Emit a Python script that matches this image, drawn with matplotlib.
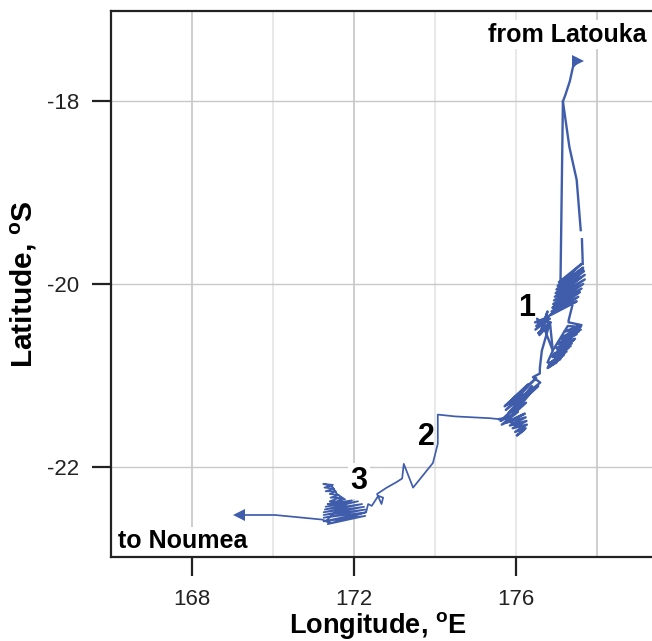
import numpy as np
import matplotlib
matplotlib.use('Agg')
import matplotlib.pyplot as plt

plt.rcParams['font.family'] = ['Liberation Sans', 'DejaVu Sans']
plt.rcParams['mathtext.fontset'] = 'custom'
plt.rcParams['mathtext.bf'] = 'Liberation Sans:bold'
plt.rcParams['mathtext.rm'] = 'Liberation Sans'
plt.rcParams['axes.unicode_minus'] = False

# ship track (nan = gap in the line)
north_lon = [177.53, 177.41, 177.33, 177.22, 177.16, 177.32, 177.50, 177.60, np.nan, 177.63, 177.65]
north_lat = [-17.56, -17.62, -17.78, -17.93, -18.00, -18.50, -18.86, -19.41, np.nan, -19.51, -19.78]

down_lon = [177.16, 177.13, 177.10]
down_lat = [-18.00, -19.00, -19.98]

cluster1_lon = [177.06, 177.62, 177.03, 177.66, 177.00, 177.68, 176.98, 177.70, 176.96, 177.70, 176.94,
                177.66, 176.92, 177.62, 176.90, 177.58, 176.88, 177.54, 176.86, 177.50, 176.90, 177.30,
                177.02, 177.60, 177.10, 177.66, 176.95, 177.45]
cluster1_lat = [-19.98, -19.78, -20.02, -19.82, -20.06, -19.86, -20.10, -19.90, -20.14, -19.95, -20.18,
                -20.00, -20.22, -20.05, -20.26, -20.09, -20.30, -20.14, -20.34, -20.19, -20.32, -20.16,
                -20.12, -19.93, -20.00, -19.84, -20.24, -20.08]

mid_lon = [176.84, 176.48, 176.84, 176.50, 176.80, 176.47, 176.86, 176.55, 176.82, 176.58, 176.78, 176.62,
           176.80, 176.52, 176.72, 176.91, 176.84, 176.64, 176.59, 176.59]
mid_lat = [-20.34, -20.50, -20.38, -20.46, -20.36, -20.42, -20.42, -20.54, -20.44, -20.56, -20.30, -20.52,
           -20.48, -20.38, -20.51, -20.73, -20.42, -20.73, -20.92, -20.98]

lower_lon = [176.42, 176.60, 175.75, 176.50, 175.72, 176.30, 175.78, 176.55, 175.85, 176.45, 175.95, 176.40,
             175.80, 176.35, 175.90, 176.25, 175.76,
             175.62, 176.05, 175.65, 176.22, 175.75, 176.24, 175.85, 176.26, 175.92, 176.27, 175.98, 176.24,
             176.02, 176.20, 175.70, 175.58]
lower_lat = [-21.02, -21.08, -21.38, -21.03, -21.34, -21.10, -21.32, -21.12, -21.40, -21.15, -21.36, -21.12,
             -21.42, -21.20, -21.44, -21.30, -21.44,
             -21.50, -21.40, -21.54, -21.42, -21.52, -21.46, -21.55, -21.50, -21.58, -21.54, -21.62, -21.58,
             -21.66, -21.60, -21.47, -21.48]

transit_lon = [175.58, 175.36, 174.49, 174.07, 174.07, 173.95, 173.46, 173.23, 173.19, 173.05, 172.81, 172.57,
               172.68, 172.72, 172.60, 172.44, 172.35, 172.30]
transit_lat = [-21.48, -21.47, -21.45, -21.43, -21.75, -21.96, -22.23, -21.97, -22.13, -22.17, -22.23, -22.30,
               -22.41, -22.34, -22.32, -22.43, -22.41, -22.50]

cluster3_lon = [171.35, 172.28, 171.25, 172.30, 171.25, 172.28, 171.25, 172.25, 171.25, 172.20, 171.28, 172.10,
                171.30, 171.95, 171.35, 171.70, 171.40, 171.65, 171.42, 171.62, 171.40, 171.55, 171.30, 171.50,
                171.27, 171.48, 171.24, 171.45, 171.58, 171.78, 171.58, 171.80, 171.60, 171.82, 171.60, 171.80,
                171.62, 171.30, 171.41, 171.21]
cluster3_lat = [-22.63, -22.54, -22.60, -22.50, -22.56, -22.47, -22.53, -22.44, -22.50, -22.41, -22.47, -22.38,
                -22.44, -22.37, -22.41, -22.38, -22.38, -22.34, -22.34, -22.31, -22.30, -22.27, -22.27, -22.24,
                -22.23, -22.20, -22.19, -22.21, -22.30, -22.36, -22.34, -22.40, -22.38, -22.44, -22.42, -22.48,
                -22.46, -22.60, -22.61, -22.58]

west_lon = [171.21, 170.05, 169.16]
west_lat = [-22.58, -22.53, -22.53]

right_lon = [177.39, 177.30, 177.30, 177.62, 177.20, 177.60, 177.12, 177.50, 177.05, 177.42, 177.00, 177.35,
             176.95, 177.25, 176.90, 177.18, 176.82, 177.10, 176.78, 177.00, 176.78, 176.92,
             177.28, 177.60, 177.15, 177.55, 177.08, 177.46, 177.02, 177.38, 176.92, 177.30, 176.86, 177.20,
             176.80, 177.12]
right_lat = [-20.24, -20.40, -20.42, -20.45, -20.52, -20.50, -20.60, -20.55, -20.66, -20.62, -20.70, -20.68,
             -20.76, -20.74, -20.80, -20.78, -20.88, -20.82, -20.92, -20.86, -20.86, -20.72,
             -20.46, -20.47, -20.58, -20.52, -20.64, -20.60, -20.72, -20.65, -20.78, -20.70, -20.86, -20.76,
             -20.90, -20.80]

start_lon, start_lat = 177.53, -17.56
end_lon, end_lat = 169.16, -22.53

x_ticks = [168, 172, 176]
y_ticks = [-18, -20, -22]
x_grid_dark = [168, 172, 178]
x_grid_light = [170, 174, 176]

track_color = '#3f5dab'

fig = plt.figure(figsize=(6.52, 6.41), dpi=100)
ax = fig.add_axes([111 / 652, 84 / 641, 541 / 652, 546 / 641])
ax.set_xlim(166, 179.36)
ax.set_ylim(-22.99, -17.01)

for x in x_grid_dark:
    ax.axvline(x, color='#cacaca', lw=1.3, zorder=1)
for x in x_grid_light:
    ax.axvline(x, color='#e6e6e6', lw=1.3, zorder=1)
for y in y_ticks:
    ax.axhline(y, color='#c8c8c8', lw=1.0, zorder=1)

# the survey boxes look heavier than the transit legs
thick_lon = down_lon + cluster1_lon + mid_lon + lower_lon
thick_lat = down_lat + cluster1_lat + mid_lat + lower_lat
thin_lon = transit_lon + cluster3_lon + west_lon
thin_lat = transit_lat + cluster3_lat + west_lat
ax.plot(thick_lon, thick_lat, color=track_color, lw=1.7, zorder=3)
ax.plot(north_lon, north_lat, color=track_color, lw=1.7, zorder=3)
ax.plot(right_lon, right_lat, color=track_color, lw=1.7, zorder=3)
ax.plot(thin_lon, thin_lat, color=track_color, lw=1.25, zorder=3)
ax.plot(start_lon, start_lat, '>', color=track_color, ms=8, mew=0, zorder=4)
ax.plot(end_lon, end_lat, '<', color=track_color, ms=8, mew=0, zorder=4)

ax.spines['right'].set_visible(False)
for side in ['top', 'left', 'bottom']:
    ax.spines[side].set_linewidth(1.6)
    ax.spines[side].set_color('#222222')

ax.set_xticks(x_ticks)
ax.set_yticks(y_ticks)
ax.tick_params(length=14, width=1.6, labelsize=16, color='#222222', labelcolor='#222222', pad=9)

ax.set_xlabel(r'Longitude, $\mathbf{^{o}}$E', fontsize=19.5, fontweight='bold')
ax.set_ylabel(r'Latitude, $\mathbf{^{o}}$S', fontsize=21.5, fontweight='bold')
ax.xaxis.set_label_coords(0.4935, -0.126, transform=ax.transAxes)
ax.xaxis.label.set_va('center')
ax.yaxis.set_label_coords(-0.161, 0.5, transform=ax.transAxes)
ax.yaxis.label.set_va('center')

box = dict(facecolor='white', edgecolor='none', pad=2)
ax.text(177.26, -17.27, 'from Latouka', fontsize=18, fontweight='bold', ha='center', va='center', bbox=box, zorder=2)
ax.text(167.78, -22.82, 'to Noumea', fontsize=18, fontweight='bold', ha='center', va='center', bbox=box, zorder=2)
ax.text(176.27, -20.26, '1', fontsize=22, fontweight='bold', ha='center', va='center', zorder=5)
ax.text(173.78, -21.68, '2', fontsize=22, fontweight='bold', ha='center', va='center', zorder=5)
ax.text(172.12, -22.16, '3', fontsize=22, fontweight='bold', ha='center', va='center', bbox=box, zorder=2)

fig.savefig('out.png', dpi=100)
